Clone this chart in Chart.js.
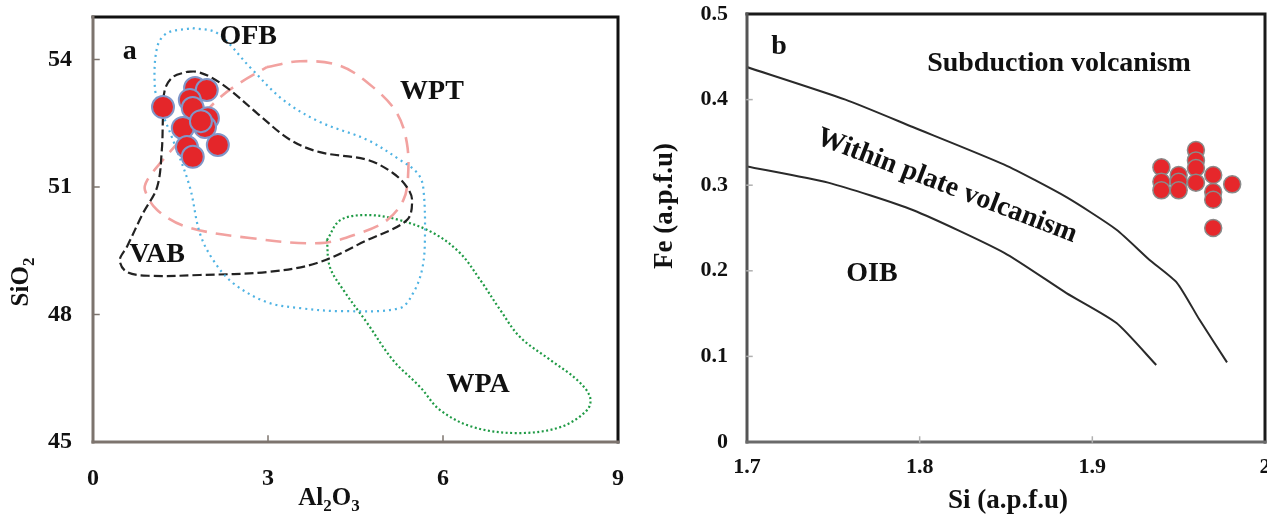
<!DOCTYPE html>
<html>
<head>
<meta charset="utf-8">
<script src="https://cdn.jsdelivr.net/npm/chart.js@4.4.0/dist/chart.umd.min.js"></script>
<style>
  html, body { margin: 0; padding: 0; background: #fff; overflow: hidden; width: 1267px; height: 515px; }
  #chartA { position: absolute; left: 0; top: 0; }
  #chartB { position: absolute; left: 640px; top: 0; }
</style>
</head>
<body>
<canvas id="chartA" width="640" height="515"></canvas>
<canvas id="chartB" width="640" height="515"></canvas>
<script>
// ---- panel a : SiO2 vs Al2O3 ----
const aXTicks = [0, 3, 6, 9];
const aYTicks = [45, 48, 51, 54];
const aSamples = [
  [1.20, 52.88], [1.75, 53.33], [1.95, 53.28], [1.66, 53.05], [1.71, 52.86], [1.97, 52.62],
  [1.54, 52.39], [1.92, 52.41], [2.14, 51.99], [1.61, 51.94], [1.71, 51.71], [1.85, 52.55]
];
const ofbField = [
  [1.71, 54.74], [2.13, 54.62], [2.69, 53.82], [3.26, 53.05], [3.89, 52.53], [4.70, 52.11],
  [5.26, 51.64], [5.56, 51.33], [5.66, 51.00], [5.69, 49.75], [5.64, 49.05], [5.49, 48.51],
  [5.26, 48.15], [4.24, 48.08], [3.55, 48.15], [2.98, 48.29], [2.40, 48.74], [2.06, 49.28],
  [1.83, 49.92], [1.66, 51.00], [1.37, 52.11], [1.15, 52.88], [1.06, 53.35], [1.10, 54.29],
  [1.27, 54.62], [1.71, 54.74]
];
const vabField = [
  [1.61, 53.71], [1.78, 53.71], [2.01, 53.59], [2.35, 53.28], [2.81, 52.74], [3.38, 52.11],
  [3.89, 51.82], [4.70, 51.64], [5.14, 51.33], [5.38, 51.00], [5.47, 50.69], [5.38, 50.22],
  [4.70, 49.75], [3.84, 49.21], [2.98, 49.00], [1.83, 48.93], [0.98, 48.91], [0.58, 49.00],
  [0.46, 49.28], [0.58, 49.59], [0.86, 50.39], [1.10, 51.00], [1.18, 51.87], [1.20, 52.65],
  [1.23, 53.28], [1.37, 53.59], [1.61, 53.71]
];
const wptField = [
  [2.98, 53.82], [3.55, 53.96], [4.24, 53.85], [4.80, 53.35], [5.21, 52.74], [5.38, 52.04],
  [5.40, 51.24], [5.32, 50.69], [5.04, 50.22], [4.58, 49.92], [3.89, 49.68], [2.69, 49.80],
  [1.61, 50.06], [1.10, 50.46], [0.89, 50.93], [0.93, 51.16], [1.15, 51.56], [1.61, 52.27],
  [2.13, 53.05], [2.52, 53.45], [2.98, 53.82]
];
const wpaField = [
  [4.01, 49.75], [4.24, 50.22], [4.70, 50.34], [5.26, 50.22], [5.83, 49.92], [6.29, 49.45],
  [6.64, 48.81], [6.98, 48.11], [7.32, 47.47], [7.84, 46.93], [8.30, 46.46], [8.52, 46.06],
  [8.47, 45.75], [8.01, 45.35], [7.27, 45.21], [6.52, 45.35], [5.95, 45.75], [5.61, 46.29],
  [5.14, 46.93], [4.70, 47.80], [4.29, 48.58], [4.06, 49.12], [4.01, 49.75]
];
const aNotes = [
  { text: 'a', x: 0.63, y: 54.18 },
  { text: 'OFB', x: 2.66, y: 54.53 },
  { text: 'WPT', x: 5.81, y: 53.24 },
  { text: 'VAB', x: 1.10, y: 49.40 },
  { text: 'WPA', x: 6.60, y: 46.34 }
];

// ---- panel b : Fe vs Si ----
const bXTicks = [1.7, 1.8, 1.9, 2.0];
const bXLabels = ['1.7', '1.8', '1.9', '2'];
const bYTicks = [0, 0.1, 0.2, 0.3, 0.4, 0.5];
const bYLabels = ['0', '0.1', '0.2', '0.3', '0.4', '0.5'];
const bSamples = [
  [1.940, 0.321], [1.940, 0.304], [1.940, 0.294], [1.950, 0.312], [1.950, 0.304], [1.950, 0.294],
  [1.960, 0.341], [1.960, 0.329], [1.960, 0.320], [1.960, 0.303], [1.970, 0.312], [1.970, 0.292],
  [1.970, 0.283], [1.981, 0.301], [1.970, 0.250]
];
const upperBoundary = [
  [1.700, 0.438], [1.757, 0.400], [1.796, 0.368], [1.849, 0.324], [1.885, 0.286],
  [1.914, 0.248], [1.933, 0.213], [1.949, 0.186], [1.962, 0.143], [1.978, 0.093]
];
const lowerBoundary = [
  [1.700, 0.322], [1.747, 0.303], [1.796, 0.271], [1.849, 0.221], [1.885, 0.174],
  [1.914, 0.139], [1.937, 0.090]
];
const bNotes = [
  { text: 'b', x: 1.7185, y: 0.4615 },
  { text: 'Subduction volcanism', x: 1.8807, y: 0.4416 },
  { text: 'Within plate volcanism', x: 1.8158, y: 0.299, rot: 21 },
  { text: 'OIB', x: 1.7724, y: 0.1963 }
];

const SERIF = "'Liberation Serif', 'Times New Roman', serif";
const toXY = arr => arr.map(p => ({ x: p[0], y: p[1] }));

// draws the frame, inward ticks, region labels and axis titles
const framePlugin = {
  id: 'frame',
  afterDraw(chart, args, o) {
    const { ctx, chartArea: a, scales: { x, y } } = chart;
    ctx.save();
    ctx.lineCap = 'square';
    ctx.lineWidth = 3;
    ctx.strokeStyle = o.edge;
    ctx.beginPath();
    ctx.moveTo(a.left, a.top); ctx.lineTo(a.right, a.top); ctx.lineTo(a.right, a.bottom);
    ctx.stroke();
    ctx.strokeStyle = o.axisY;
    ctx.beginPath();
    ctx.moveTo(a.left, a.top); ctx.lineTo(a.left, a.bottom);
    ctx.stroke();
    ctx.strokeStyle = o.axisX;
    ctx.beginPath();
    ctx.moveTo(a.left, a.bottom); ctx.lineTo(a.right, a.bottom);
    ctx.stroke();

    ctx.lineWidth = 1.5;
    ctx.strokeStyle = o.tickColor;
    x.ticks.forEach(t => {
      const px = x.getPixelForValue(t.value);
      if (px <= a.left + 2 || px >= a.right - 2) return;
      ctx.beginPath(); ctx.moveTo(px, a.bottom); ctx.lineTo(px, a.bottom - o.tickLen); ctx.stroke();
    });
    y.ticks.forEach(t => {
      const py = y.getPixelForValue(t.value);
      if (py <= a.top + 2 || py >= a.bottom - 2) return;
      ctx.beginPath(); ctx.moveTo(a.left, py); ctx.lineTo(a.left + o.tickLen, py); ctx.stroke();
    });

    ctx.fillStyle = '#111';
    ctx.textAlign = 'center';
    ctx.textBaseline = 'middle';
    o.notes.forEach(n => {
      ctx.save();
      ctx.font = 'bold ' + o.noteSize + 'px ' + SERIF;
      ctx.translate(x.getPixelForValue(n.x), y.getPixelForValue(n.y));
      if (n.rot) ctx.rotate(n.rot * Math.PI / 180);
      ctx.fillText(n.text, 0, 0);
      ctx.restore();
    });

    // axis titles, made of parts so subscripts can drop
    const drawTitle = (parts, cx, cy, rot) => {
      const big = 'bold ' + o.titleSize + 'px ' + SERIF;
      const small = 'bold ' + Math.round(o.titleSize * 0.68) + 'px ' + SERIF;
      let w = 0;
      parts.forEach(p => { ctx.font = p.sub ? small : big; w += ctx.measureText(p.t).width; });
      ctx.save();
      ctx.translate(cx, cy);
      if (rot) ctx.rotate(rot);
      ctx.textAlign = 'left';
      ctx.textBaseline = 'alphabetic';
      let cur = -w / 2;
      const base = o.titleSize * 0.33;
      parts.forEach(p => {
        ctx.font = p.sub ? small : big;
        ctx.fillText(p.t, cur, p.sub ? base + o.titleSize * 0.22 : base);
        cur += ctx.measureText(p.t).width;
      });
      ctx.restore();
    };
    drawTitle(o.xTitle.parts, o.xTitle.x, o.xTitle.y, 0);
    drawTitle(o.yTitle.parts, o.yTitle.x, o.yTitle.y, -Math.PI / 2);
    ctx.restore();
  }
};

function axisSetup(min, max, ticks, labels, size, pad, fit, isX) {
  return {
    type: 'linear',
    min: min,
    max: max,
    afterBuildTicks: s => { s.ticks = ticks.map(v => ({ value: v })); },
    afterFit: s => {
      // fixed box sizes, and no extra room for edge labels
      if (isX) s.height = fit; else s.width = fit;
      s.paddingTop = 0; s.paddingBottom = 0; s.paddingLeft = 0; s.paddingRight = 0;
    },
    grid: { display: false, drawTicks: false },
    border: { display: false },
    ticks: {
      autoSkip: false,
      maxRotation: 0,
      padding: pad,
      color: '#111',
      font: { family: SERIF, size: size, weight: 'bold' },
      callback: (v, i) => labels ? labels[i] : String(v)
    }
  };
}

function field(data, color, dash, width) {
  return {
    data: toXY(data),
    showLine: true,
    borderColor: color,
    borderWidth: width,
    borderDash: dash,
    pointRadius: 0,
    tension: 0.35,
    fill: false,
    order: 1
  };
}

new Chart(document.getElementById('chartA'), {
  type: 'scatter',
  data: {
    datasets: [
      {
        data: toXY(aSamples),
        pointRadius: 11,
        backgroundColor: '#e4262a',
        borderColor: '#8197c9',
        borderWidth: 2,
        order: 0
      },
      field(ofbField, '#4fb3e3', [2, 4], 2.2),
      field(vabField, '#222222', [9, 4], 2.2),
      field(wptField, '#f2a2a0', [16, 9], 2.6),
      field(wpaField, '#1f9a45', [2, 2.5], 2.2)
    ]
  },
  options: {
    responsive: false,
    animation: false,
    events: [],
    layout: { padding: { top: 17, right: 22, left: 0, bottom: 0 } },
    plugins: {
      legend: { display: false },
      tooltip: { enabled: false },
      frame: {
        edge: '#111', axisX: '#7d746e', axisY: '#7d746e', tickColor: '#7d746e', tickLen: 6,
        notes: aNotes, noteSize: 28, titleSize: 25,
        xTitle: { parts: [{ t: 'Al' }, { t: '2', sub: true }, { t: 'O' }, { t: '3', sub: true }], x: 329, y: 497 },
        yTitle: { parts: [{ t: 'SiO' }, { t: '2', sub: true }], x: 20, y: 282 }
      }
    },
    scales: {
      x: axisSetup(0, 9, aXTicks, null, 24, 22, 73, true),
      y: axisSetup(45, 55, aYTicks, null, 24, 21, 93, false)
    }
  },
  plugins: [framePlugin]
});

new Chart(document.getElementById('chartB'), {
  type: 'scatter',
  data: {
    datasets: [
      {
        data: toXY(bSamples),
        pointRadius: 8.5,
        backgroundColor: '#e6272b',
        borderColor: '#8a8a8a',
        borderWidth: 1.5,
        order: 0
      },
      {
        data: toXY(upperBoundary), showLine: true, borderColor: '#2a2a2a', borderWidth: 2,
        pointRadius: 0, tension: 0.2, order: 1
      },
      {
        data: toXY(lowerBoundary), showLine: true, borderColor: '#2a2a2a', borderWidth: 2,
        pointRadius: 0, tension: 0.2, order: 1
      }
    ]
  },
  options: {
    responsive: false,
    animation: false,
    events: [],
    layout: { padding: { top: 14, right: 15, left: 0, bottom: 0 } },
    plugins: {
      legend: { display: false },
      tooltip: { enabled: false },
      frame: {
        edge: '#1a1a1a', axisX: '#6a6a6a', axisY: '#555555', tickColor: '#b0b0b0', tickLen: 5,
        notes: bNotes, noteSize: 28, titleSize: 27,
        xTitle: { parts: [{ t: 'Si (a.p.f.u)' }], x: 368, y: 499 },
        yTitle: { parts: [{ t: 'Fe (a.p.f.u)' }], x: 23, y: 206 }
      }
    },
    scales: {
      x: axisSetup(1.7, 2.0, bXTicks, bXLabels, 22, 12, 73, true),
      y: axisSetup(0, 0.5, bYTicks, bYLabels, 22, 19, 107, false)
    }
  },
  plugins: [framePlugin]
});
</script>
</body>
</html>
